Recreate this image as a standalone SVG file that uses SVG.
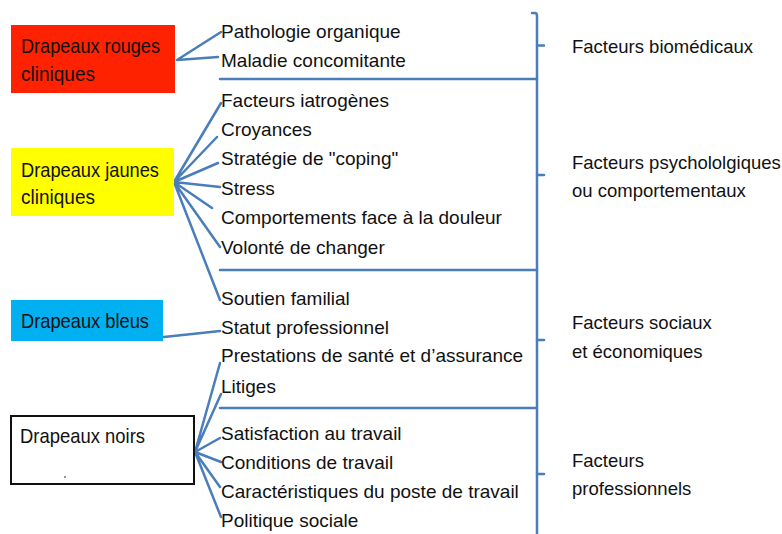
<svg xmlns="http://www.w3.org/2000/svg" width="782" height="534" viewBox="0 0 782 534">
<style>
.flag{font-family:"Liberation Sans",Arial,sans-serif;font-size:21px;fill:#111}
.item{font-family:"Liberation Sans",Arial,sans-serif;font-size:19px;fill:#111}
.lab{font-family:"Liberation Sans",Arial,sans-serif;font-size:18.5px;fill:#111}
.c{stroke:#4a7ebb;stroke-width:2.5;fill:none;stroke-linecap:round;stroke-linejoin:round}
</style>
<rect width="782" height="534" fill="#fff"/>
<g id="connectors">
  <path class="c" d="M177,60 L221,32 M177,60 L218,57"/>
  <path class="c" d="M174,182 L221,103 M174,182 L217,137 M174,182 L218,163 M174,182 L220,187 M174,182 L212,208 M174,182 L220,247 M174,182 L220,300"/>
  <path class="c" d="M164,337 L220,331"/>
  <path class="c" d="M195,452 L220,363 M195,452 L221,394 M195,452 L220,438 M195,452 L221,462 M195,452 L220,487 M195,452 L221,517"/>
  <path class="c" d="M220,79 H537 M220,270 H537 M220,408 H537"/>
  <path class="c" d="M532,13 H535 Q537,13 537,16 V534"/>
  <path class="c" d="M537,45.5 H544 M537,175 H544 M537,340 H544 M537,474 H544"/>
</g>
<g id="red">
  <rect x="11" y="25" width="164" height="68" fill="#ff2200"/>
  <text class="flag" x="21" y="53" textLength="139" lengthAdjust="spacingAndGlyphs">Drapeaux rouges</text>
  <text class="flag" x="21" y="81" textLength="74" lengthAdjust="spacingAndGlyphs">cliniques</text>
</g>
<g id="yellow">
  <rect x="11" y="148" width="163" height="68" fill="#ffff00"/>
  <text class="flag" x="21" y="177" textLength="138" lengthAdjust="spacingAndGlyphs">Drapeaux jaunes</text>
  <text class="flag" x="21" y="204" textLength="74" lengthAdjust="spacingAndGlyphs">cliniques</text>
</g>
<g id="blue">
  <rect x="11" y="300" width="152" height="41" fill="#00b0f0"/>
  <text class="flag" x="21" y="328" textLength="128" lengthAdjust="spacingAndGlyphs">Drapeaux bleus</text>
</g>
<g id="black">
  <rect x="11" y="416" width="183" height="68" fill="#fff" stroke="#111" stroke-width="2"/>
  <text class="flag" x="20" y="443" textLength="125" lengthAdjust="spacingAndGlyphs">Drapeaux noirs</text>
  <circle cx="65" cy="477" r="0.8" fill="#111"/>
</g>
<g id="items">
  <text class="item" x="221" y="38">Pathologie organique</text>
  <text class="item" x="221" y="67">Maladie concomitante</text>
  <text class="item" x="221" y="107">Facteurs iatrogènes</text>
  <text class="item" x="221" y="136">Croyances</text>
  <text class="item" x="221" y="165">Stratégie de "coping"</text>
  <text class="item" x="221" y="195">Stress</text>
  <text class="item" x="221" y="224">Comportements face à la douleur</text>
  <text class="item" x="221" y="254">Volonté de changer</text>
  <text class="item" x="221" y="305">Soutien familial</text>
  <text class="item" x="221" y="334">Statut professionnel</text>
  <text class="item" x="221" y="362">Prestations de santé et d’assurance</text>
  <text class="item" x="221" y="393">Litiges</text>
  <text class="item" x="221" y="440">Satisfaction au travail</text>
  <text class="item" x="221" y="469">Conditions de travail</text>
  <text class="item" x="221" y="498">Caractéristiques du poste de travail</text>
  <text class="item" x="221" y="527">Politique sociale</text>
</g>
<g id="labels">
  <text class="lab" x="572" y="53">Facteurs biomédicaux</text>
  <text class="lab" x="572" y="169">Facteurs psychololgiques</text>
  <text class="lab" x="572" y="197">ou comportementaux</text>
  <text class="lab" x="572" y="329">Facteurs sociaux</text>
  <text class="lab" x="572" y="358">et économiques</text>
  <text class="lab" x="572" y="467">Facteurs</text>
  <text class="lab" x="572" y="495">professionnels</text>
</g>
</svg>
